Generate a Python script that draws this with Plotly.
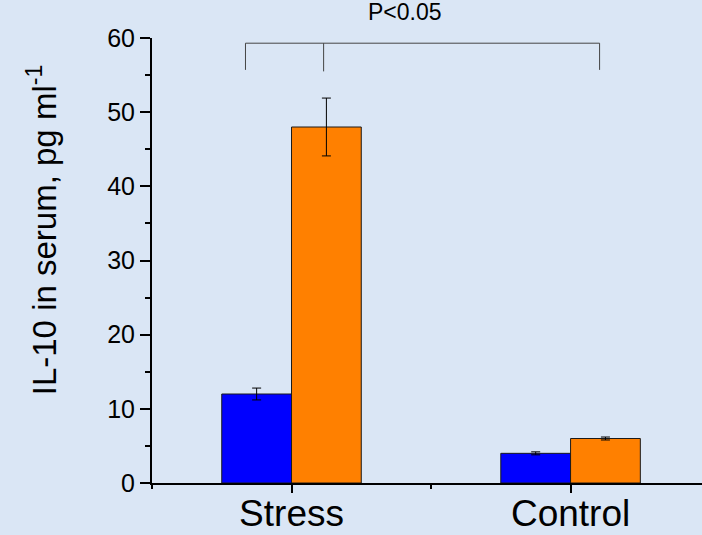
import plotly.graph_objects as go

# Serum IL-10 by group
groups = ["Stress", "Control"]
group_pos = [1, 2]
series_a = [12.0, 4.0]          # blue series
series_a_err = [0.8, 0.2]
series_b = [48.0, 6.0]          # orange series
series_b_err = [3.9, 0.2]

y_ticks = [0, 10, 20, 30, 40, 50, 60]
sig_label = "P<0.05"

FONT = "Arial, 'Liberation Sans', sans-serif"
BG = "#dae6f5"

fig = go.Figure()
fig.add_trace(go.Bar(
    x=group_pos, y=series_a,
    marker=dict(color="#0000ff", line=dict(color="#1a1a1a", width=1)),
    error_y=dict(type="data", array=series_a_err, color="black", thickness=1, width=4.5),
    showlegend=False,
))
fig.add_trace(go.Bar(
    x=group_pos, y=series_b,
    marker=dict(color="#ff8000", line=dict(color="#1a1a1a", width=1)),
    error_y=dict(type="data", array=series_b_err, color="black", thickness=1, width=4.5),
    showlegend=False,
))

# significance bracket
bracket_color = "#444444"
fig.add_shape(type="path",
              path="M 0.835 55.7 L 0.835 59.3 L 2.104 59.3 L 2.104 55.7",
              xref="x", yref="y", line=dict(color=bracket_color, width=1))
fig.add_shape(type="line", x0=1.115, x1=1.115, y0=55.5, y1=59.3,
              xref="x", yref="y", line=dict(color=bracket_color, width=1))
fig.add_annotation(text=sig_label, x=1.406, y=1.058, xref="x", yref="paper",
                   showarrow=False, xanchor="center", yanchor="middle",
                   font=dict(family=FONT, size=23, color="black"))

# y-axis title
fig.add_annotation(text="IL-10 in serum, pg ml<sup>-1</sup>",
                   x=-0.2, y=0.568, xref="paper", yref="paper",
                   showarrow=False, textangle=-90,
                   xanchor="center", yanchor="middle",
                   font=dict(family=FONT, size=33, color="black"))

fig.update_layout(
    width=702, height=535,
    margin=dict(l=152, r=0, t=38, b=52),
    paper_bgcolor=BG, plot_bgcolor=BG,
    barmode="group", bargap=0.5, bargroupgap=0,
    xaxis=dict(
        range=[0.5, 2.471], automargin=False,
        tickmode="array", tickvals=group_pos, ticktext=groups,
        ticks="outside", ticklen=8, tickwidth=1.5, tickcolor="black",
        ticklabelstandoff=-11,
        minor=dict(tickmode="array", tickvals=[0.5, 1.5, 2.5],
                   ticks="outside", ticklen=4, tickwidth=1.5, tickcolor="black"),
        showline=True, linecolor="black", linewidth=2,
        showgrid=False, zeroline=False,
        tickfont=dict(family=FONT, size=37, color="black"),
        fixedrange=True,
    ),
    yaxis=dict(
        range=[0, 60], automargin=False,
        tickmode="array", tickvals=y_ticks,
        ticks="outside", ticklen=10, tickwidth=1.5, tickcolor="black",
        minor=dict(tickmode="linear", tick0=5, dtick=10,
                   ticks="outside", ticklen=5, tickwidth=1.5, tickcolor="black"),
        showline=True, linecolor="black", linewidth=2,
        showgrid=False, zeroline=False,
        tickfont=dict(family=FONT, size=25, color="black"),
        fixedrange=True,
    ),
)

fig.write_html("out.html")
